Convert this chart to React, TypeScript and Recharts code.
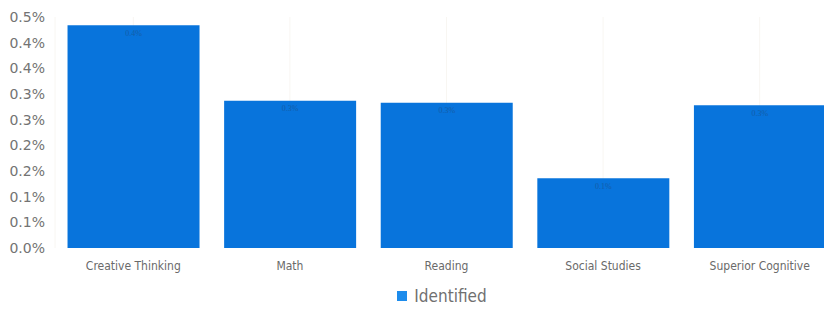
import React from "react";
import { BarChart, Bar, XAxis, YAxis, Legend, LabelList, CartesianGrid } from "recharts";

const categories = ["Creative Thinking", "Math", "Reading", "Social Studies", "Superior Cognitive"];
const identified = [0.434, 0.287, 0.283, 0.136, 0.278];
const yTicks = [0, 0.05, 0.1, 0.15, 0.2, 0.25, 0.3, 0.35, 0.4, 0.45];
const yTickLabels = ["0.0%", "0.1%", "0.1%", "0.2%", "0.2%", "0.3%", "0.3%", "0.4%", "0.4%", "0.5%"];

const data = categories.map((name, i) => ({ name, Identified: identified[i] }));

const BAR_COLOR = "#0874dc";

function LegendContent() {
  return (
    <div style={{ display: "flex", justifyContent: "center", alignItems: "center", paddingTop: 8, paddingLeft: 46 }}>
      <span style={{ width: 10, height: 10, background: "#1d8cec", display: "inline-block", marginRight: 7 }} />
      <span style={{ fontFamily: "'DejaVu Sans Condensed', 'DejaVu Sans', sans-serif", fontSize: 17, color: "#707070" }}>
        Identified
      </span>
    </div>
  );
}

export default function App() {
  return (
    <div style={{ position: "fixed", left: 0, top: 0, width: 824, height: 309, overflow: "hidden", background: "#fff" }}>
      <BarChart
        width={840}
        height={309}
        data={data}
        margin={{ top: 17, right: 2, left: 0, bottom: 5 }}
        barCategoryGap="8%"
      >
        <CartesianGrid horizontal={false} stroke="#f8f6f2" />
        <XAxis
          dataKey="name"
          height={30}
          axisLine={false}
          tickLine={false}
          interval={0}
          tick={{ fill: "#6a6a6a", fontSize: 12, fontFamily: "'DejaVu Sans Condensed', 'DejaVu Sans', sans-serif" }}
          tickMargin={7}
        />
        <YAxis
          width={55}
          domain={[0, 0.45]}
          ticks={yTicks}
          axisLine={false}
          tickLine={false}
          tickFormatter={(v: number) => yTickLabels[yTicks.indexOf(v)] ?? ""}
          tick={{ fill: "#737373", fontSize: 14, fontFamily: "'DejaVu Sans', sans-serif" }}
          tickMargin={4}
        />
        <Legend verticalAlign="bottom" height={26} content={<LegendContent />} />
        <Bar dataKey="Identified" fill={BAR_COLOR} isAnimationActive={false}>
          <LabelList
            dataKey="Identified"
            position="insideTop"
            formatter={(v: number) => (v * 1).toFixed(1) + "%"}
            style={{ fill: "#1c4f86", fontSize: 8, opacity: 0.6 }}
          />
        </Bar>
      </BarChart>
    </div>
  );
}
